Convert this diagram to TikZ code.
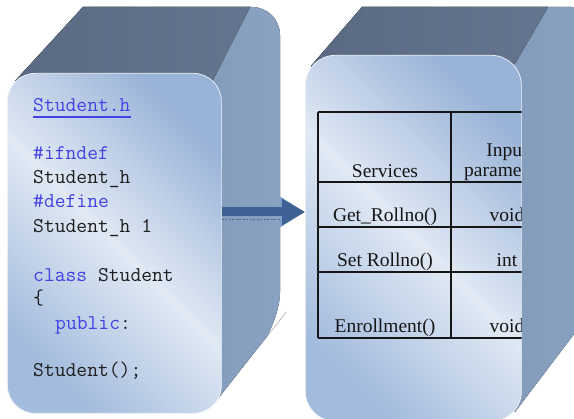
\documentclass[tikz,border=0pt]{standalone}
\usepackage{fontspec}
\setmainfont{Liberation Serif}
\usetikzlibrary{arrows.meta}

\definecolor{topdk}{HTML}{5A6A83}
\definecolor{toplt}{HTML}{64758F}
\definecolor{sidedk}{HTML}{7890B1}
\definecolor{sidelt}{HTML}{8AA2C1}
\definecolor{frontdk}{HTML}{9AB3D8}
\definecolor{frontlt}{HTML}{E0E9F4}
\definecolor{frontdkb}{HTML}{A3BBDD}
\definecolor{kwblue}{HTML}{4242E6}
\definecolor{codeink}{HTML}{1E1E1E}
\definecolor{arrowblue}{HTML}{3C6192}
\definecolor{arrowrim}{HTML}{7E9DC7}
\definecolor{rule}{HTML}{161616}

\begin{document}
\begin{tikzpicture}[x=1pt,y=-1pt,
  sideface/.style={left color=sidedk, right color=sidelt},
  topface/.style={left color=topdk, right color=toplt},
  frontface/.style={draw=white!55!frontlt, line width=0.7pt, inner sep=0pt,
    anchor=north west, top color=frontdk, bottom color=frontdkb,
    middle color=frontlt, shading angle=-45},
  codeline/.style={anchor=base west, inner sep=0pt, text=codeink,
    font=\ttfamily\fontsize{21}{24}\selectfont},
  cell/.style={anchor=base, inner sep=0pt, text=rule,
    font=\fontsize{19.5}{20}\selectfont},
  tablerule/.style={draw=rule, line width=1.2pt},
  bigarrow/.style={line width=9pt, draw=arrowblue,
    -{Triangle[length=23pt,width=25pt]},
    preaction={draw=arrowrim, line width=11pt,
      -{Triangle[length=25pt,width=29pt]}}},
  arrowshade/.style={draw=topdk, line width=1pt, dash pattern=on 2pt off 1.5pt}
]
\clip (0,0) rectangle (574,419);
\fill[white] (0,0) rectangle (574,419);

% ---------- header file block ----------
\fill[sideface] (15,81) -- (83,7) -- (252,7) [rounded corners=28pt] -- (280,7)
  -- (280,320) -- (269,334) [sharp corners] -- (213,405) -- (150,250) -- cycle;
\fill[topface] (15,81) -- (83,7) -- (250,7) -- (212,82) -- (100,150) -- cycle;
\node[frontface, rounded corners=28pt, minimum width=214pt,
  minimum height=340pt] (lf) at (7,73) {};

\node[codeline, text=kwblue] (c1) at (33,112) {Student.h};
\draw[kwblue, line width=1.4pt] ([yshift=-5pt]c1.base west) -- ([yshift=-5pt]c1.base east);
\node[codeline, text=kwblue] (c2) at (33,160) {\#ifndef};
\node[codeline] (c3) at (33,184) {Student\_h};
\node[codeline, text=kwblue] (c4) at (33,208) {\#define};
\node[codeline] (c5) at (33,233) {Student\_h 1};
\node[codeline] (c6) at (33,282) {\textcolor{kwblue}{class} Student};
\node[codeline] (c7) at (33,305) {\{};
\node[codeline] (c8) at (55,330) {\textcolor{kwblue}{public}:};
\node[codeline] (c9) at (33,377) {Student();};

% ---------- services table block ----------
\fill[sideface] (311,66) -- (362,7) -- (570,7) [rounded corners=28pt] -- (600,7)
  -- (600,300) -- (590,313) [sharp corners] -- (515,412) -- (420,250) -- cycle;
\fill[topface] (311,66) -- (362,7) -- (548,7) -- (516,62) -- (420,150) -- cycle;
\node[frontface, rounded corners=30pt, minimum width=216pt,
  minimum height=366pt] (rf) at (305,55) {};

\begin{scope}
  \clip[rounded corners=30pt] (rf.north west) rectangle (rf.south east);
  \draw[draw=rule, line width=2pt] (318,112) -- (530,112);
  \draw[tablerule] (318,112) -- (318,338);
  \draw[tablerule] (451,112) -- (451,338);
  \draw[tablerule] (318,182) -- (530,182);
  \draw[tablerule] (318,227) -- (530,227);
  \draw[tablerule] (318,272) -- (530,272);
  \draw[tablerule] (318,338) -- (530,338);

  \node[cell] (hs) at (385,178) {Services};
  \node[cell] (hi1) at (507,157) {Input};
  \node[cell] (hi2) at (507,177) {parameters};
  \node[cell] (s1) at (385,222) {Get\_Rollno()};
  \node[cell] (p1) at (507,222) {void};
  \node[cell] (s2) at (385,267) {Set Rollno()};
  \node[cell] (p2) at (507,267) {int};
  \node[cell] (s3) at (385,333) {Enrollment()};
  \node[cell] (p3) at (507,333) {void};
\end{scope}

% ---------- arrow between the blocks ----------
\coordinate (arrowrow) at (0,212);
\coordinate (shadowrow) at (0,219.5);
\draw[arrowshade] (lf.east |- shadowrow) -- ++(60,0);
\draw[bigarrow] (lf.east |- arrowrow) -- (rf.west |- arrowrow);
\end{tikzpicture}
\end{document}
